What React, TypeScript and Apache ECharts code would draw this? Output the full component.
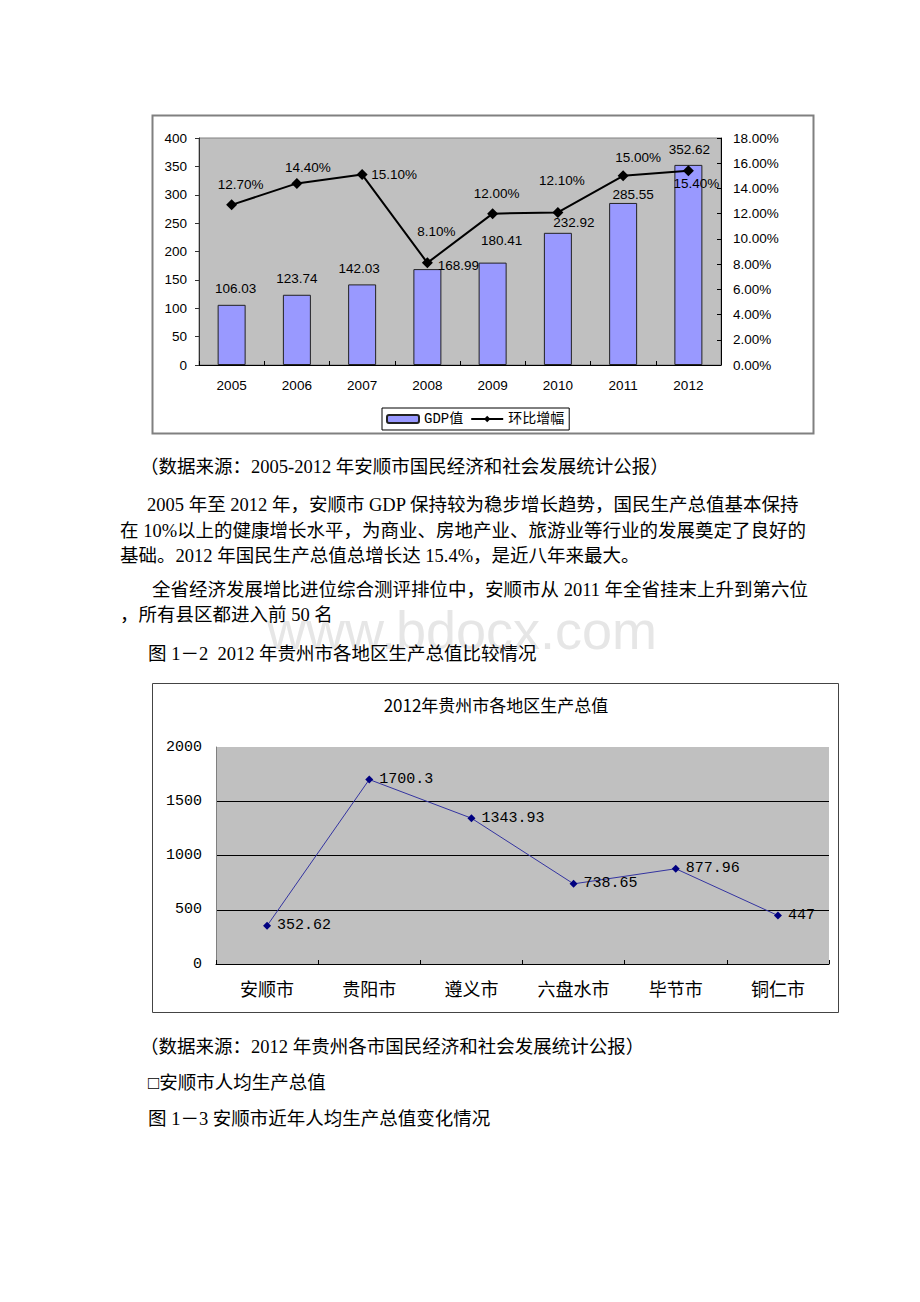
import React, { useEffect, useRef } from 'react';
import * as echarts from 'echarts';

// ---------- data ----------
const years = ['2005', '2006', '2007', '2008', '2009', '2010', '2011', '2012'];
const gdpValues = [106.03, 123.74, 142.03, 168.99, 180.41, 232.92, 285.55, 352.62];
const growthPct = [12.7, 14.4, 15.1, 8.1, 12.0, 12.1, 15.0, 15.4];

const regions = ['安顺市', '贵阳市', '遵义市', '六盘水市', '毕节市', '铜仁市'];
const regionGdp = [352.62, 1700.3, 1343.93, 738.65, 877.96, 447];

const seriesNames = ['GDP值', '环比增幅'];
const chart2Title = '2012年贵州市各地区生产总值';

// label nudges (style, not data)
const barLabelOffsets = [[4, -16], [0, -16], [-3, -16], [31, -4], [9, -22], [16, -10], [10, -8], [1, -15]];
const lineLabelOffsets = [[9, -20], [11, -16], [32, 0], [9, -31], [4, -20], [4, -32], [15, -18], [8, 13]];

// document text
const docLines = [
  { text: '（数据来源：2005-2012 年安顺市国民经济和社会发展统计公报）', x: 140, y: 467 },
  { text: '2005 年至 2012 年，安顺市 GDP 保持较为稳步增长趋势，国民生产总值基本保持', x: 147, y: 505 },
  { text: '在 10%以上的健康增长水平，为商业、房地产业、旅游业等行业的发展奠定了良好的', x: 120, y: 531 },
  { text: '基础。2012 年国民生产总值总增长达 15.4%，是近八年来最大。', x: 120, y: 556 },
  { text: '全省经济发展增比进位综合测评排位中，安顺市从 2011 年全省挂末上升到第六位', x: 152, y: 590 },
  { text: '，所有县区都进入前 50 名', x: 120, y: 615 },
  { text: '图 1－2  2012 年贵州市各地区生产总值比较情况', x: 148, y: 654 },
  { text: '（数据来源：2012 年贵州各市国民经济和社会发展统计公报）', x: 140, y: 1047 },
  { text: '□安顺市人均生产总值', x: 148, y: 1083 },
  { text: '图 1－3 安顺市近年人均生产总值变化情况', x: 148, y: 1119 },
];

const SANS = '"Liberation Sans", Arial, sans-serif';
const CJK = '"Noto Sans CJK SC", sans-serif';
const MONO = '"Liberation Mono", "Noto Sans CJK SC", monospace';
const DOC = '"Liberation Serif", "Noto Sans CJK SC", serif';

export default function App() {
  const ref = useRef<HTMLDivElement>(null);

  useEffect(() => {
    if (!ref.current) return;
    const chart = echarts.init(ref.current, null, { renderer: 'svg' });

    const graphicEls: any[] = [
      {
        type: 'text',
        x: 462,
        y: 630,
        z: 0,
        style: {
          text: 'www.bdocx.com',
          fill: '#e6e6e6',
          font: `54px ${SANS}`,
          lineHeight: 40,
          align: 'center',
          verticalAlign: 'middle',
        },
      },
      {
        type: 'rect',
        shape: { x: 152.5, y: 115.5, width: 661, height: 318 },
        style: { fill: 'none', stroke: '#808080', lineWidth: 2 },
        z: 1,
      },
      {
        type: 'rect',
        shape: { x: 152.5, y: 683.5, width: 686, height: 329 },
        style: { fill: 'none', stroke: '#444', lineWidth: 1 },
        z: 1,
      },
      {
        type: 'text',
        x: 496,
        y: 704,
        z: 2,
        style: {
          text: chart2Title,
          fill: '#000',
          font: `17px ${CJK}`,
          align: 'center',
          verticalAlign: 'middle',
        },
      },
      ...docLines.map((l) => ({
        type: 'text',
        x: l.x,
        y: l.y,
        z: 2,
        style: {
          text: l.text,
          fill: '#000',
          font: `18.5px ${DOC}`,
          align: 'left',
          verticalAlign: 'middle',
        },
      })),
    ];

    const option: any = {
      animation: false,
      textStyle: { fontFamily: SANS },
      graphic: { elements: graphicEls },
      grid: [
        {
          left: 199, top: 138, width: 522, height: 227,
          show: true, backgroundColor: '#C0C0C0', borderColor: '#808080', borderWidth: 1,
          containLabel: false, outerBoundsMode: 'none',
        },
        {
          left: 216, top: 747, width: 613, height: 217,
          show: true, backgroundColor: '#C0C0C0', borderWidth: 0,
          containLabel: false, outerBoundsMode: 'none',
        },
      ],
      legend: {
        data: seriesNames,
        left: 382,
        top: 408,
        orient: 'horizontal',
        padding: [4, 5, 4, 4],
        itemGap: 7,
        itemWidth: 32,
        itemHeight: 8,
        borderColor: '#000',
        borderWidth: 1,
        borderRadius: 0,
        backgroundColor: '#fff',
        textStyle: { fontSize: 14, fontFamily: MONO, color: '#000' },
      },
      xAxis: [
        {
          type: 'category', gridIndex: 0, data: years, boundaryGap: true,
          axisLine: { show: true, onZero: false, lineStyle: { color: '#000', width: 1 } },
          axisTick: { show: true, inside: true, length: 4, lineStyle: { color: '#000' } },
          axisLabel: { margin: 13, fontSize: 13.5, color: '#000', fontFamily: SANS },
          splitLine: { show: false },
        },
        {
          type: 'category', gridIndex: 1, data: regions, boundaryGap: true,
          axisLine: { show: true, onZero: false, lineStyle: { color: '#000', width: 1 } },
          axisTick: { show: true, inside: true, length: 4, lineStyle: { color: '#000' } },
          axisLabel: { margin: 15, fontSize: 18, color: '#000', fontFamily: CJK },
          splitLine: { show: false },
        },
      ],
      yAxis: [
        {
          type: 'value', gridIndex: 0, position: 'left', min: 0, max: 400, interval: 50,
          axisLine: { show: true, lineStyle: { color: '#333' } },
          axisTick: { show: true, inside: false, length: 4, lineStyle: { color: '#333' } },
          axisLabel: { margin: 12, fontSize: 13.5, color: '#000', fontFamily: SANS },
          splitLine: { show: false },
        },
        {
          type: 'value', gridIndex: 0, position: 'right', min: 0, max: 18, interval: 2,
          axisLine: { show: true, lineStyle: { color: '#000' } },
          axisTick: { show: true, inside: true, length: 4, lineStyle: { color: '#000' } },
          axisLabel: {
            margin: 12, fontSize: 13.5, color: '#000', fontFamily: SANS,
            formatter: (v: number) => v.toFixed(2) + '%',
          },
          splitLine: { show: false },
        },
        {
          type: 'value', gridIndex: 1, position: 'left', min: 0, max: 2000, interval: 500,
          axisLine: { show: true, lineStyle: { color: '#808080' } },
          axisTick: { show: false },
          axisLabel: {
            margin: 14, fontSize: 15, color: '#000', fontFamily: MONO,
            formatter: (v: number) => String(v),
          },
          splitLine: {
            show: true,
            lineStyle: { color: ['#000', '#000', '#000', '#000', '#C0C0C0'], width: 1 },
          },
        },
      ],
      series: [
        {
          name: seriesNames[0],
          type: 'bar',
          xAxisIndex: 0,
          yAxisIndex: 0,
          barWidth: 28,
          data: gdpValues.map((v, i) => ({ value: v, label: { offset: barLabelOffsets[i] } })),
          itemStyle: { color: '#9999FF', borderColor: '#222', borderWidth: 1 },
          label: {
            show: true, position: 'top', distance: 0, align: 'center', verticalAlign: 'middle',
            fontSize: 13.5, fontFamily: SANS, color: '#000',
            formatter: (p: any) => Number(p.value).toFixed(2),
          },
          z: 2,
        },
        {
          name: seriesNames[1],
          type: 'line',
          xAxisIndex: 0,
          yAxisIndex: 1,
          data: growthPct.map((v, i) => ({ value: v, label: { offset: lineLabelOffsets[i] } })),
          symbol: 'diamond',
          symbolSize: 11,
          showAllSymbol: true,
          lineStyle: { color: '#000', width: 2 },
          itemStyle: { color: '#000' },
          label: {
            show: true, position: 'inside', align: 'center', verticalAlign: 'middle',
            fontSize: 13.5, fontFamily: SANS, color: '#000',
            formatter: (p: any) => Number(p.value).toFixed(2) + '%',
          },
          z: 3,
        },
        {
          name: '地区生产总值',
          type: 'line',
          xAxisIndex: 1,
          yAxisIndex: 2,
          data: regionGdp,
          symbol: 'diamond',
          symbolSize: 8,
          showAllSymbol: true,
          lineStyle: { color: '#3333A0', width: 1 },
          itemStyle: { color: '#000080' },
          label: {
            show: true, position: 'right', distance: 6,
            fontSize: 15, fontFamily: MONO, color: '#000',
            formatter: (p: any) => String(p.value),
          },
          z: 3,
        },
      ],
    };

    chart.setOption(option);
    return () => chart.dispose();
  }, []);

  return (
    <div
      ref={ref}
      style={{ position: 'absolute', left: 0, top: 0, width: 920, height: 1302, background: '#fff' }}
    />
  );
}
